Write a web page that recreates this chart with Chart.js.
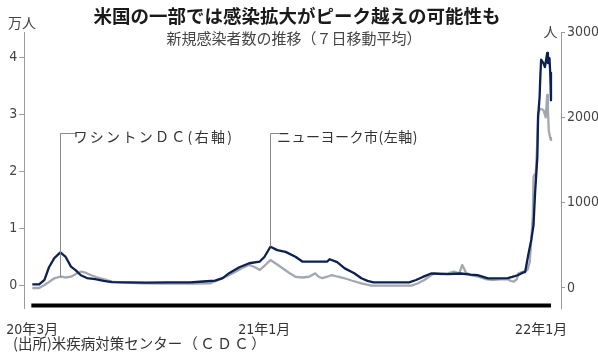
<!DOCTYPE html>
<html><head><meta charset="utf-8">
<script src="https://cdn.jsdelivr.net/npm/chart.js@4/dist/chart.umd.min.js"></script>
<style>html,body{margin:0;padding:0;background:#fff;}canvas{display:block;}</style>
</head><body>
<canvas id="c" width="598" height="358"></canvas>
<script>
// ---- data (x = days since 2020-03-01) ----
const titleText = '米国の一部では感染拡大がピーク越えの可能性も';
const subtitleText = '新規感染者数の推移（７日移動平均）';
const sourceMain = '(出所)米疾病対策センター';
const sourceOrg = '（ＣＤＣ）';
const leftUnit = '万人';
const rightUnit = '人';

const xTickDays = [0, 306, 671];
const xTickLabels = ['20年3月', '21年1月', '22年1月'];
const leftTicks = [0, 1, 2, 3, 4];
const rightTicks = [0, 1000, 2000, 3000];

// New York City (left axis, 万人)
const nycDays = [0, 9, 16, 22, 29, 37, 44, 51, 57, 64, 72, 83, 94, 105, 150, 180, 208, 225, 241, 251, 260, 273, 286, 300, 306, 314, 323, 334, 347, 356, 389, 392, 402, 412, 424, 434, 442, 450, 497, 506, 515, 526, 548, 565, 578, 587, 601, 627, 633, 640, 646, 650, 654, 658, 661, 663, 666, 667, 669, 670, 671, 674, 676, 679, 680, 682, 683, 684];
const nycValues = [0.02, 0.02, 0.10, 0.32, 0.48, 0.58, 0.50, 0.33, 0.27, 0.18, 0.13, 0.11, 0.08, 0.06, 0.05, 0.055, 0.056, 0.07, 0.084, 0.13, 0.22, 0.32, 0.39, 0.42, 0.50, 0.68, 0.62, 0.59, 0.505, 0.42, 0.42, 0.46, 0.41, 0.30, 0.22, 0.126, 0.08, 0.056, 0.056, 0.096, 0.15, 0.21, 0.20, 0.21, 0.19, 0.18, 0.126, 0.13, 0.15, 0.18, 0.22, 0.24, 0.535, 0.80, 1.06, 1.62, 2.25, 2.96, 3.31, 3.69, 3.96, 3.90, 3.83, 4.08, 3.90, 3.99, 3.73, 3.25];

// Washington DC (right axis, 人)
const dcDays = [0, 9, 16, 22, 29, 35, 39, 44, 51, 55, 59, 65, 71, 77, 84, 90, 98, 105, 120, 146, 173, 199, 218, 234, 242, 251, 260, 268, 277, 286, 293, 300, 306, 314, 322, 330, 339, 347, 356, 365, 373, 378, 382, 389, 395, 403, 412, 421, 434, 447, 474, 500, 508, 517, 523, 530, 539, 548, 556, 563, 567, 572, 578, 588, 598, 605, 618, 627, 631, 635, 639, 641, 647, 653, 656, 658, 660, 661, 662, 664, 666, 667, 670, 674, 677, 679, 680, 681, 683, 684];
const dcValues = [0, 0, 35, 70, 114, 129, 132, 123, 132, 152, 172, 191, 176, 152, 129, 114, 94, 74, 64, 55, 53, 53, 53, 55, 82, 114, 152, 191, 234, 270, 246, 211, 258, 328, 281, 231, 176, 132, 123, 132, 172, 129, 117, 132, 152, 132, 114, 88, 55, 27, 27, 27, 53, 94, 132, 172, 164, 172, 191, 172, 270, 179, 152, 132, 105, 94, 100, 102, 82, 74, 105, 172, 188, 211, 305, 562, 855, 1300, 1325, 1348, 1734, 2050, 2100, 2086, 2000, 2262, 2086, 1850, 1758, 1734];

const annotations = [
  { text: 'ワシントンＤＣ(右軸)', day: 37, series: 1, labelAt: 2.67 },
  { text: 'ニューヨーク市(左軸)', day: 314, series: 0, labelAt: 2.67 }
];

// ---- styles ----
const NAVY = '#0c2052';
const GRAY = '#a4a7b0';
const AXIS = '#9a9a9a';
const CJK = "'Noto Sans CJK JP', sans-serif";
const NUM = "'Liberation Sans Narrow', 'DejaVu Sans Condensed', 'Noto Sans CJK JP', sans-serif";

function series(days, vals) { return days.map((d, i) => ({ x: d, y: vals[i] })); }
function valueAt(points, day) {
  for (let i = 0; i < points.length - 1; i++) {
    const a = points[i], b = points[i + 1];
    if (day >= a.x && day <= b.x) return a.y + (b.y - a.y) * (day - a.x) / (b.x - a.x);
  }
  return points[points.length - 1].y;
}

const decor = {
  id: 'decor',
  beforeDatasetsDraw(chart) {
    const { ctx, chartArea, scales } = chart;
    const all = nycDays.concat(dcDays);
    const x0 = scales.x.getPixelForValue(Math.min(...all));
    const x1 = scales.x.getPixelForValue(Math.max(...all));
    ctx.save();
    ctx.fillStyle = '#000';
    ctx.fillRect(x0 - 1, chartArea.bottom - 4.5, x1 - x0 + 1, 4);
    ctx.restore();
  },
  afterDraw(chart) {
    const { ctx, scales } = chart;
    const ls = v => { if ('letterSpacing' in ctx) ctx.letterSpacing = v; };
    ctx.save();
    ctx.fillStyle = '#1a1a1a';
    ctx.textAlign = 'center';
    ctx.textBaseline = 'middle';
    ctx.font = `bold 18.5px ${CJK}`;
    ctx.fillText(titleText, 297, 15.5);
    ctx.fillStyle = '#444';
    ctx.font = `15px ${CJK}`;
    ctx.fillText(subtitleText, 294, 38);
    ctx.font = `14px ${CJK}`;
    ctx.textAlign = 'left';
    ctx.fillText(leftUnit, 8, 22.5);
    ctx.textAlign = 'center';
    ctx.fillText(rightUnit, 550.5, 31.5);
    // source
    ctx.textAlign = 'left';
    ctx.fillStyle = '#333';
    ctx.font = `14.5px ${CJK}`;
    ctx.fillText(sourceMain, 13, 343);
    const w = ctx.measureText(sourceMain).width;
    ls('2.5px');
    ctx.fillText(sourceOrg, 13 + w + 1, 343);
    ls('0px');
    // annotations
    const spans = [15, 8.5];
    const spacing = ['2.3px', '0.5px'];
    annotations.forEach((a, k) => {
      const ds = chart.data.datasets[a.series];
      const x = Math.round(scales.x.getPixelForValue(a.day)) + 0.5;
      const yEnd = scales[ds.yAxisID].getPixelForValue(valueAt(ds.data, a.day));
      const yTop = Math.round(scales.yL.getPixelForValue(a.labelAt)) + 0.5;
      ctx.strokeStyle = '#8a8a8a';
      ctx.lineWidth = 1;
      ctx.beginPath();
      ctx.moveTo(x, yEnd);
      ctx.lineTo(x, yTop);
      ctx.lineTo(x + spans[k], yTop);
      ctx.stroke();
      ctx.fillStyle = '#333';
      ctx.font = `14px ${CJK}`;
      ctx.textBaseline = 'middle';
      ctx.textAlign = 'left';
      ls(spacing[k]);
      ctx.fillText(a.text, x + spans[k] - 2, yTop + 3);
      ls('0px');
    });
    ctx.restore();
  }
};

new Chart(document.getElementById('c'), {
  type: 'line',
  data: {
    datasets: [
      { label: 'ニューヨーク市', data: series(nycDays, nycValues), yAxisID: 'yL', borderColor: NAVY, borderWidth: 2.3, pointRadius: 0, tension: 0, borderJoinStyle: 'round', order: 1 },
      { label: 'ワシントンＤＣ', data: series(dcDays, dcValues), yAxisID: 'yR', borderColor: GRAY, borderWidth: 2.3, pointRadius: 0, tension: 0, borderJoinStyle: 'round', order: 2 }
    ]
  },
  options: {
    responsive: false,
    animation: false,
    devicePixelRatio: 1,
    layout: { padding: { top: 32, left: 0, right: 0, bottom: 0 } },
    plugins: { legend: { display: false }, tooltip: { enabled: false }, title: { display: false } },
    scales: {
      x: {
        type: 'linear', min: -10.6, max: 697.2,
        grid: { display: false },
        border: { display: false },
        afterBuildTicks: s => { s.ticks = xTickDays.map(v => ({ value: v })); },
        afterFit: s => { s.height = 50; },
        ticks: {
          autoSkip: false, maxRotation: 0, padding: 6, color: '#333',
          font: { family: NUM, size: 14 },
          callback: (v) => xTickLabels[xTickDays.indexOf(v)]
        }
      },
      yL: {
        position: 'left', min: -0.395, max: 4.447,
        grid: { display: true, drawOnChartArea: false, drawTicks: true, tickLength: 5, color: AXIS },
        border: { display: true, color: AXIS, width: 1 },
        afterBuildTicks: s => { s.ticks = leftTicks.map(v => ({ value: v })); },
        afterFit: s => { s.width = 20; },
        ticks: { padding: 2, color: '#444', font: { family: NUM, size: 14 }, callback: v => String(v) }
      },
      yR: {
        position: 'right', min: -234.4, max: 3000,
        grid: { display: true, drawOnChartArea: false, drawTicks: true, tickLength: 4, color: AXIS },
        border: { display: true, color: AXIS, width: 1 },
        afterBuildTicks: s => { s.ticks = rightTicks.map(v => ({ value: v })); },
        afterFit: s => { s.width = 37; },
        ticks: { padding: 2, color: '#444', font: { family: NUM, size: 14 }, callback: v => String(v) }
      }
    }
  },
  plugins: [decor]
});
</script>
</body></html>
